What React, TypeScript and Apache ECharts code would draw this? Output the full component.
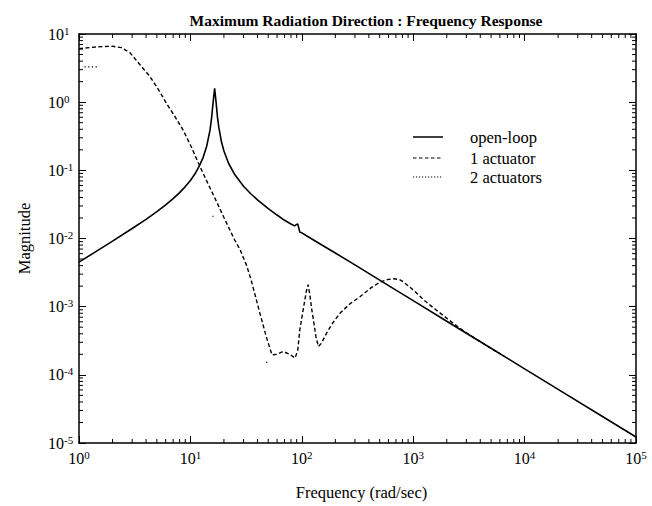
import React, { useEffect, useRef } from "react";
import * as echarts from "echarts";

// ---- data ----
const titleText = "Maximum Radiation Direction : Frequency Response";
const xAxisTitle = "Frequency (rad/sec)";
const yAxisTitle = "Magnitude";
const xTickExponents = [0, 1, 2, 3, 4, 5];
const yTickExponents = [-5, -4, -3, -2, -1, 0, 1];
const legendNames = ["open-loop", "1 actuator", "2 actuators"];

// open-loop: [frequency (rad/sec), magnitude]
const openLoop: [number, number][] = [
  [1, 0.0045], [1.5, 0.0068], [2, 0.00913], [3, 0.014], [4, 0.0191], [5, 0.0248],
  [6, 0.0311], [7, 0.0384], [8, 0.0471], [9, 0.0577], [10, 0.0711], [11, 0.089],
  [12, 0.115], [13, 0.154], [14, 0.225], [15, 0.388], [15.5, 0.59], [16, 1.0],
  [16.5, 1.6], [17, 1.0], [17.5, 0.6], [18, 0.426], [19, 0.262], [20, 0.192],
  [22, 0.127], [25, 0.0868], [30, 0.0585], [35, 0.045], [40, 0.0369], [50, 0.0275],
  [60, 0.0221], [70, 0.0185], [80, 0.0163], [86, 0.0153], [90, 0.0161], [92, 0.0164],
  [94, 0.0142], [96, 0.0124], [100, 0.0121], [120, 0.0101], [150, 0.0081], [200, 0.00612],
  [300, 0.0041], [500, 0.00245], [700, 0.00175], [1000, 0.001225], [2000, 0.000612],
  [3000, 0.000408], [5000, 0.000245], [10000, 0.0001225], [20000, 0.0000612],
  [50000, 0.0000245], [100000, 0.00001225],
];

// 1 actuator
const oneActuator: [number, number][] = [
  [1, 6.1], [1.5, 6.5], [2, 6.6], [2.4, 6.3], [2.87, 5.3], [3.5, 3.6], [4.34, 2.37],
  [5.2, 1.5], [6.1, 0.96], [7.2, 0.63], [8.6, 0.39], [10.2, 0.22], [12.2, 0.113],
  [14.5, 0.062], [17, 0.036], [19.8, 0.021], [25, 0.0095], [28, 0.0068], [32, 0.004],
  [35, 0.0025], [38, 0.0015], [42, 0.00081], [48, 0.00036], [54, 0.000196], [60, 0.0002],
  [68, 0.00022], [78, 0.0002], [87, 0.000176], [92, 0.00023], [96, 0.00046], [104, 0.001],
  [110, 0.0017], [114, 0.0021], [118, 0.0015], [123, 0.0009], [127, 0.00065],
  [134, 0.00036], [141, 0.00026], [150, 0.00029], [167, 0.00041], [190, 0.00058],
  [220, 0.0008], [270, 0.0011], [333, 0.0014], [420, 0.0019], [505, 0.0023],
  [590, 0.0025], [665, 0.00257], [750, 0.0025], [820, 0.0023], [1012, 0.00173],
  [1260, 0.00123], [1600, 0.0009], [2040, 0.00066], [2500, 0.00051], [3100, 0.0004],
  [4000, 0.000306], [6000, 0.000204],
];

// 2 actuators: only short dotted fragments are visible
const twoActuatorsA: [number, number][] = [[1.12, 3.3], [1.45, 3.3]];
const twoActuatorsB: [number, number][] = [[15.8, 0.0215], [16.3, 0.0205]];
const twoActuatorsC: [number, number][] = [[48, 0.00015], [50, 0.00016]];

const X_MIN = 1, X_MAX = 100000, Y_MIN = 0.00001, Y_MAX = 10;

const FONT = "'Liberation Serif', 'DejaVu Serif', serif";

function supLabel(v: number) {
  const e = Math.round(Math.log10(v));
  return `{b|10}{s|${e}}`;
}

const richLabel = {
  b: { fontSize: 16, fontFamily: FONT, color: "#000" },
  s: { fontSize: 11, fontFamily: FONT, color: "#000", verticalAlign: "bottom", padding: [0, 0, 7, 0] },
};

export default function App() {
  const ref = useRef<HTMLDivElement>(null);
  useEffect(() => {
    if (!ref.current) return;
    const chart = echarts.init(ref.current, undefined, { renderer: "svg" });

    const minorX: number[] = [];
    xTickExponents.slice(0, -1).forEach((e) => {
      for (let k = 2; k <= 9; k++) minorX.push(k * Math.pow(10, e));
    });
    const minorY: number[] = [];
    yTickExponents.slice(0, -1).forEach((e) => {
      for (let k = 2; k <= 9; k++) minorY.push(k * Math.pow(10, e));
    });

    const tickStyle = { stroke: "#000", lineWidth: 1 };
    const minorLen = 4;

    const axisCommon = {
      type: "log" as const,
      logBase: 10,
      axisLine: { show: true, lineStyle: { color: "#000", width: 1.5 } },
      axisTick: { show: true, inside: true, length: 7, lineStyle: { color: "#000", width: 1 } },
      splitLine: { show: false },
    };

    const lineSeries = (name: string, data: [number, number][], type: any, width: number) => ({
      type: "line",
      name,
      data,
      showSymbol: false,
      symbol: "none",
      lineStyle: { color: "#000", width, type },
      itemStyle: { color: "#000" },
      z: 3,
    });

    const lx1 = 413, lx2 = 443, ltx = 470;
    const ly = [137, 158, 177];
    const legendDash: any[] = [null, [3.5, 2.5], [1.2, 1.8]];

    chart.setOption({
      animation: false,
      backgroundColor: "#fff",
      title: {
        text: titleText,
        left: 361,
        top: 7,
        textAlign: "center",
        textStyle: { fontFamily: FONT, fontSize: 15.5, fontWeight: "bold", color: "#000" },
      },
      grid: { left: 79, right: 16, top: 34, bottom: 63, containLabel: false },
      xAxis: [
        {
          ...axisCommon,
          position: "bottom",
          min: X_MIN,
          max: X_MAX,
          splitNumber: 5,
          name: xAxisTitle,
          nameLocation: "middle",
          nameGap: 41,
          nameTextStyle: { fontFamily: FONT, fontSize: 16.5, color: "#000", padding: [0, 0, 0, 8] },
          axisLabel: { show: true, margin: 6, formatter: supLabel, rich: richLabel },
        },
        {
          ...axisCommon,
          position: "top",
          min: X_MIN,
          max: X_MAX,
          splitNumber: 5,
          axisLabel: { show: false },
        },
      ],
      yAxis: [
        {
          ...axisCommon,
          position: "left",
          min: Y_MIN,
          max: Y_MAX,
          splitNumber: 6,
          name: yAxisTitle,
          nameLocation: "middle",
          nameGap: 46,
          nameRotate: 90,
          nameTextStyle: { fontFamily: FONT, fontSize: 16.5, color: "#000" },
          axisLabel: { show: true, margin: 31, align: "left", formatter: supLabel, rich: richLabel },
        },
        {
          ...axisCommon,
          position: "right",
          min: Y_MIN,
          max: Y_MAX,
          splitNumber: 6,
          axisLabel: { show: false },
        },
      ],
      series: [
        lineSeries(legendNames[0], openLoop, "solid", 1.6),
        lineSeries(legendNames[1], oneActuator, [4, 2.5], 1.4),
        lineSeries(legendNames[2], twoActuatorsA, [1.2, 2.5], 1.2),
        lineSeries(legendNames[2], twoActuatorsB, [1.2, 2.5], 1.2),
        lineSeries(legendNames[2], twoActuatorsC, [1.2, 2.5], 1.2),
        {
          type: "custom",
          silent: true,
          data: minorX.map((v) => [v, 1]),
          renderItem: (_p: any, api: any) => {
            const v = api.value(0);
            const pb = api.coord([v, Y_MIN]);
            const pt = api.coord([v, Y_MAX]);
            return {
              type: "group",
              children: [
                { type: "line", shape: { x1: pb[0], y1: pb[1], x2: pb[0], y2: pb[1] - minorLen }, style: tickStyle },
                { type: "line", shape: { x1: pt[0], y1: pt[1], x2: pt[0], y2: pt[1] + minorLen }, style: tickStyle },
              ],
            };
          },
          z: 4,
        },
        {
          type: "custom",
          silent: true,
          data: minorY.map((v) => [1, v]),
          renderItem: (_p: any, api: any) => {
            const v = api.value(1);
            const pl = api.coord([X_MIN, v]);
            const pr = api.coord([X_MAX, v]);
            return {
              type: "group",
              children: [
                { type: "line", shape: { x1: pl[0], y1: pl[1], x2: pl[0] + minorLen, y2: pl[1] }, style: tickStyle },
                { type: "line", shape: { x1: pr[0], y1: pr[1], x2: pr[0] - minorLen, y2: pr[1] }, style: tickStyle },
              ],
            };
          },
          z: 4,
        },
      ],
      graphic: legendNames.flatMap((n, i) => [
        {
          type: "line",
          shape: { x1: lx1, y1: ly[i], x2: lx2, y2: ly[i] },
          style: { stroke: "#000", lineWidth: i === 0 ? 1.5 : 1.2, lineDash: legendDash[i] },
        },
        {
          type: "text",
          x: ltx,
          y: ly[i],
          style: { text: n, fontFamily: FONT, fontSize: 16.5, fill: "#000", verticalAlign: "middle" },
        },
      ]),
    });
    return () => chart.dispose();
  }, []);
  return (
    <div
      ref={ref}
      style={{ position: "absolute", left: 0, top: 0, width: 652, height: 506, background: "#fff" }}
    />
  );
}
